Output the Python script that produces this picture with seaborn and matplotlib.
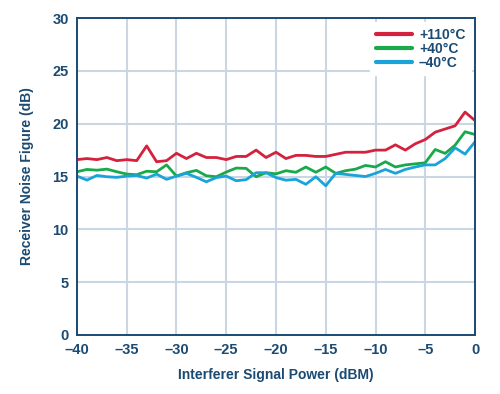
import matplotlib
matplotlib.use("Agg")
import matplotlib.pyplot as plt
import numpy as np
import pandas as pd
import seaborn as sns

# Interferer power sweep, 1 dB steps
power_dbm = np.arange(-40, 1, 1)

series_names = ["+110°C", "+40°C", "–40°C"]

nf_110 = [16.6, 16.7, 16.6, 16.8, 16.5, 16.6, 16.5, 17.9, 16.4, 16.5,
          17.2, 16.7, 17.2, 16.8, 16.8, 16.6, 16.9, 16.9, 17.5, 16.8,
          17.3, 16.7, 17.0, 17.0, 16.9, 16.9, 17.1, 17.3, 17.3, 17.3,
          17.5, 17.5, 18.0, 17.5, 18.1, 18.5, 19.2, 19.5, 19.8, 21.1,
          20.3]
nf_40 = [15.45, 15.67, 15.6, 15.7, 15.45, 15.23, 15.17, 15.5, 15.45, 16.1,
         15.04, 15.36, 15.58, 15.07, 14.98, 15.42, 15.8, 15.77, 14.98, 15.36,
         15.25, 15.55, 15.4, 15.9, 15.4, 15.9, 15.3, 15.55, 15.7, 16.05,
         15.9, 16.4, 15.9, 16.1, 16.2, 16.3, 17.56, 17.19, 17.97, 19.24,
         18.98]
nf_m40 = [15.04, 14.66, 15.1, 14.98, 14.92, 15.04, 15.1, 14.85, 15.23, 14.73,
          15.04, 15.3, 14.92, 14.5, 14.9, 15.04, 14.6, 14.7, 15.36, 15.36,
          14.9, 14.65, 14.73, 14.26, 14.98, 14.12, 15.3, 15.2, 15.1, 15.0,
          15.3, 15.67, 15.3, 15.67, 15.9, 16.1, 16.1, 16.7, 17.72, 17.12,
          18.29]

xtick_values = [-40, -35, -30, -25, -20, -15, -10, -5, 0]
xtick_labels = ["–40", "–35", "–30", "–25", "–20", "–15", "–10", "–5", "0"]
ytick_values = [0, 5, 10, 15, 20, 25, 30]

TEXT_COLOR = "#1b4a72"
GRID_COLOR = "#cad7e3"
palette = {"+110°C": "#d4213d", "+40°C": "#19a94a", "–40°C": "#1aa3d9"}

# Long-form table for seaborn
df = pd.DataFrame({
    "power": np.tile(power_dbm, 3),
    "nf": np.concatenate([nf_110, nf_40, nf_m40]),
    "temp": np.repeat(series_names, len(power_dbm)),
})

sns.set_theme(style="whitegrid")
plt.rcParams["font.family"] = ["Liberation Sans", "DejaVu Sans"]
plt.rcParams["font.weight"] = "bold"

fig = plt.figure(figsize=(5.0, 3.94), dpi=100)
ax = fig.add_axes([0.154, 0.150, 0.796, 0.804])

sns.lineplot(data=df, x="power", y="nf", hue="temp", hue_order=series_names,
             palette=palette, linewidth=2.0, ax=ax)

ax.set_xlim(-40, 0)
ax.set_ylim(0, 30)
ax.set_xticks(xtick_values)
ax.set_xticklabels(xtick_labels)
ax.set_yticks(ytick_values)

ax.grid(True, color=GRID_COLOR, linewidth=1.5)
ax.set_axisbelow(True)
for spine in ax.spines.values():
    spine.set_color(TEXT_COLOR)
    spine.set_linewidth(1.4)

ax.tick_params(axis="both", colors=TEXT_COLOR, labelsize=10.5, length=3,
               width=1.0, direction="out", pad=3)
for lbl in ax.get_xticklabels() + ax.get_yticklabels():
    lbl.set_fontweight("bold")

ax.set_xlabel("Interferer Signal Power (dBM)", color=TEXT_COLOR,
              fontsize=10, fontweight="bold", labelpad=8)
ax.set_ylabel("Receiver Noise Figure (dB)", color=TEXT_COLOR,
              fontsize=10, fontweight="bold", labelpad=13)

leg = ax.legend(loc="upper right", frameon=True, fancybox=False,
                borderaxespad=0.3, handlelength=2.6, handletextpad=0.5,
                labelspacing=0.0, fontsize=10)
leg.get_frame().set_facecolor("white")
leg.get_frame().set_edgecolor("white")
leg.get_frame().set_alpha(1.0)
for txt in leg.get_texts():
    txt.set_color(TEXT_COLOR)
    txt.set_fontweight("bold")
for line in leg.get_lines():
    line.set_linewidth(3.0)

fig.savefig("out.png", dpi=100, facecolor="white")
